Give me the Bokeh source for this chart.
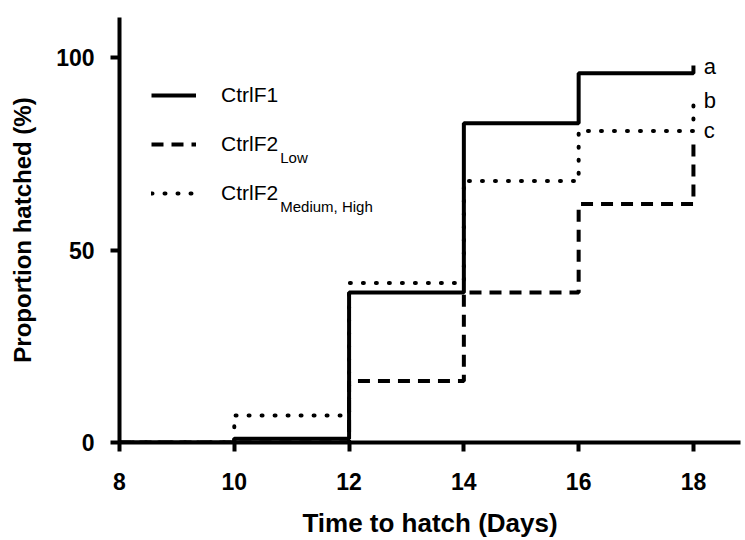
from bokeh.plotting import figure
from bokeh.models import (FixedTicker, Legend, LegendItem, Label, Range1d)
from bokeh.embed import file_html
from bokeh.resources import INLINE

# ---- data ----
days = [8, 10, 12, 14, 16, 18]
ctrlf1 = [0, 1, 39, 83, 96, 98]
ctrlf2_low = [0, 0, 16, 39, 62, 79]
ctrlf2_medhigh = [0, 7, 41.5, 68, 81, 88]
x_ticks = [8, 10, 12, 14, 16, 18]
y_ticks = [0, 50, 100]
series_labels = ["CtrlF1", "CtrlF2", "CtrlF2"]
subscripts = ["Low", "Medium, High"]
sig_letters = ["a", "b", "c"]
sig_levels = [97.8, 88.9, 81.0]

FONT = "Liberation Sans"

p = figure(width=745, height=540, output_backend="svg", toolbar_location=None,
           x_range=Range1d(8, 18.82), y_range=Range1d(0, 110.5))
p.min_border_left = 119
p.min_border_right = 5
p.min_border_top = 17
p.min_border_bottom = 98
p.outline_line_color = None
p.grid.visible = False
p.background_fill_color = "white"
p.border_fill_color = "white"

for ax in (p.xaxis[0], p.yaxis[0]):
    ax.axis_line_width = 4
    ax.axis_line_color = "black"
    ax.major_tick_line_width = 4
    ax.major_tick_line_color = "black"
    ax.major_tick_in = 0
    ax.major_tick_out = 9
    ax.minor_tick_line_color = None
    ax.major_label_text_font = FONT
    ax.major_label_text_font_style = "bold"
    ax.major_label_text_font_size = "23px"
    ax.major_label_text_color = "black"
    ax.axis_label_text_font = FONT
    ax.axis_label_text_font_style = "bold"
    ax.axis_label_text_color = "black"

p.xaxis.ticker = FixedTicker(ticks=x_ticks)
p.yaxis.ticker = FixedTicker(ticks=y_ticks)
p.xaxis.major_label_standoff = 21
p.yaxis.major_label_standoff = 16

p.xaxis.axis_label = "Time to hatch (Days)"
p.xaxis.axis_label_text_font_size = "26px"
p.xaxis.axis_label_standoff = 15

p.yaxis.axis_label = "Proportion hatched (%)"
p.yaxis.axis_label_text_font_size = "24px"
p.yaxis.axis_label_standoff = 17

r1 = p.step(days, ctrlf1, mode="after", line_color="black", line_width=4)
r2 = p.step(days, ctrlf2_low, mode="after", line_color="black", line_width=4,
            line_dash="12 8")
r3 = p.step(days, ctrlf2_medhigh, mode="after", line_color="black", line_width=4,
            line_dash="1 12", line_cap="round")

legend = Legend(items=[LegendItem(label=series_labels[0], renderers=[r1]),
                       LegendItem(label=series_labels[1], renderers=[r2]),
                       LegendItem(label=series_labels[2], renderers=[r3])],
                location=(32, 237), padding=0, margin=0, spacing=25,
                glyph_width=45, glyph_height=24, label_height=24,
                label_standoff=25, border_line_color=None,
                background_fill_alpha=0,
                label_text_font=FONT, label_text_font_size="21px",
                label_text_color="black")
p.add_layout(legend, "center")

# subscripts of the legend labels
p.add_layout(Label(x=10.80, y=74.1, text=subscripts[0], text_font=FONT,
                   text_font_size="15px", text_color="black",
                   text_baseline="alphabetic"))
p.add_layout(Label(x=10.80, y=61.4, text=subscripts[1], text_font=FONT,
                   text_font_size="15px", text_color="black",
                   text_baseline="alphabetic"))

# significance letters
for letter, lvl in zip(sig_letters, sig_levels):
    p.add_layout(Label(x=18.18, y=lvl, text=letter, text_font=FONT,
                       text_font_size="22px", text_color="black",
                       text_baseline="alphabetic"))

open("out.html", "w").write(file_html(p, INLINE))
